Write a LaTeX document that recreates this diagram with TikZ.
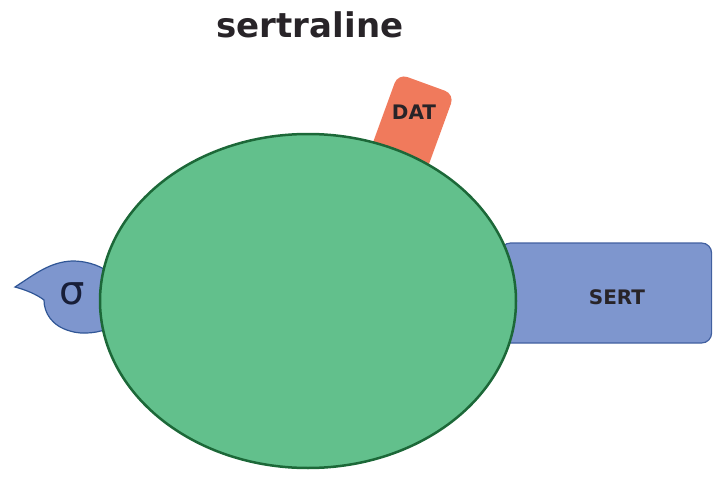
\documentclass[tikz,border=0pt]{standalone}
\usepackage{fontspec}
\newfontfamily\labelfont{DejaVu Sans}
\usetikzlibrary{shapes.geometric}
\definecolor{cellgreen}{RGB}{98,192,140}
\definecolor{celledge}{RGB}{28,104,56}
\definecolor{sertblue}{RGB}{126,150,206}
\definecolor{sertedge}{RGB}{66,96,160}
\definecolor{datred}{RGB}{240,122,92}
\definecolor{sigedge}{RGB}{48,86,150}
\definecolor{txt}{RGB}{40,36,40}
\definecolor{sigtxt}{RGB}{24,30,56}
\tikzset{
  receptor/.style={rounded corners=10pt, line width=1.2pt},
  lbl/.style={font=\labelfont\bfseries\fontsize{20}{22}\selectfont, text=txt},
}
\begin{document}
\begin{tikzpicture}[x=1pt,y=-1pt]
\useasboundingbox (0,0) rectangle (713,482);
% title
\node[font=\labelfont\bfseries\fontsize{34}{38}\selectfont, text=txt] (title) at (310,25) {sertraline};
% SERT
\node[receptor, draw=sertedge, fill=sertblue, minimum width=211pt, minimum height=100pt, anchor=west] (sert) at (500,293) {};
% DAT
\node[receptor, fill=datred, minimum width=60pt, minimum height=130pt, rotate=-20] (dat) at (404,145) {};
% sigma receptor
\draw[fill=sertblue, draw=sigedge, line width=1.2pt] (15,287) .. controls (35,274) and (50,262) .. (72,261)
  .. controls (90,261) and (102,267) .. (112,274) -- (112,327)
  .. controls (100,333) and (82,335) .. (70,331)
  .. controls (52,326) and (44,313) .. (44,300)
  .. controls (36,294) and (26,290) .. (15,287) -- cycle;
% cell
\node[ellipse, draw=celledge, fill=cellgreen, line width=2.5pt, minimum width=416pt, minimum height=334pt] (cell) at (308,301) {};
% labels
\node[lbl] (sertlbl) at (617,297) {SERT};
\node[lbl] (datlbl) at (414,112) {DAT};
\node[text=sigtxt, font=\labelfont\fontsize{40}{40}\selectfont] (sig) at (72,294) {σ};
\end{tikzpicture}
\end{document}
